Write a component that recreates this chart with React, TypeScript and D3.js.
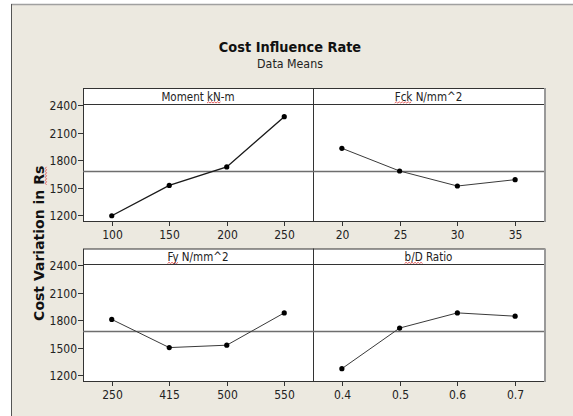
import React, { useLayoutEffect, useRef, useState } from "react";
import * as d3 from "d3";

// ---- data ----
const factorNames = ["Moment kN-m", "Fck N/mm^2", "Fy N/mm^2", "b/D Ratio"];
const momentLevels = ["100", "150", "200", "250"];
const momentMeans = [1197, 1527, 1727, 2273];
const fckLevels = ["20", "25", "30", "35"];
const fckMeans = [1930, 1683, 1520, 1589];
const fyLevels = ["250", "415", "500", "550"];
const fyMeans = [1809, 1503, 1529, 1880];
const bdLevels = ["0.4", "0.5", "0.6", "0.7"];
const bdMeans = [1274, 1715, 1880, 1844];
const yTicks = [1200, 1500, 1800, 2100, 2400];
const grandMean = 1678;
// character ranges flagged by the spell checker (red squiggle)
const squiggles: [number, number][] = [[7, 8], [0, 2], [0, 1], [0, 2]];

const W = 573, H = 416;
const FONT = "'DejaVu Sans Condensed', 'DejaVu Sans', sans-serif";
const colX = [83, 313, 544];
const rows = [
  { head: 88, top: 104, bottom: 221 },
  { head: 248.5, top: 264, bottom: 381 },
];

const panels = [
  { name: factorNames[0], levels: momentLevels, means: momentMeans, sq: squiggles[0], col: 0, row: 0, lw: 1.4, lc: "#1a1a1a" },
  { name: factorNames[1], levels: fckLevels, means: fckMeans, sq: squiggles[1], col: 1, row: 0, lw: 1, lc: "#3a3a3a" },
  { name: factorNames[2], levels: fyLevels, means: fyMeans, sq: squiggles[2], col: 0, row: 1, lw: 1, lc: "#3a3a3a" },
  { name: factorNames[3], levels: bdLevels, means: bdMeans, sq: squiggles[3], col: 1, row: 1, lw: 1, lc: "#3a3a3a" },
];

function wave(x0: number, x1: number, y: number) {
  let d = `M${x0},${y}`;
  let up = true;
  for (let x = x0 + 1.5; x <= x1 + 0.01; x += 1.5) {
    d += ` L${x},${y + (up ? -1.2 : 0)}`;
    up = !up;
  }
  return d;
}

export default function App() {
  const headRefs = useRef<(SVGTextElement | null)[]>([]);
  const yLabRef = useRef<SVGTextElement | null>(null);
  const [sqPaths, setSqPaths] = useState<string[]>([]);
  const [ySq, setYSq] = useState<string>("");

  useLayoutEffect(() => {
    const ps: string[] = [];
    panels.forEach((p, i) => {
      const el = headRefs.current[i];
      if (!el) return;
      try {
        const s = el.getStartPositionOfChar(p.sq[0]);
        const e = el.getEndPositionOfChar(p.sq[1]);
        ps.push(wave(s.x, e.x, s.y + 2.5));
      } catch (err) {}
    });
    setSqPaths(ps);
    const yl = yLabRef.current;
    if (yl) {
      try {
        const n = yl.textContent!.length;
        const s = yl.getStartPositionOfChar(n - 2);
        const e = yl.getEndPositionOfChar(n - 1);
        setYSq(wave(s.x, e.x, s.y + 2.5));
      } catch (err) {}
    }
  }, []);

  const yScales = rows.map((r) =>
    d3.scaleLinear().domain([1140, 2411]).range([r.bottom, r.top])
  );

  return (
    <svg width={W} height={H} style={{ position: "absolute", left: 0, top: 0, background: "#fff" }} fontFamily={FONT}>
      {/* frame */}
      <rect x={11} y={4} width={W - 11} height={H - 4} fill="#ECE9E0" />
      <line x1={11} x2={W} y1={4.5} y2={4.5} stroke="#a0a0a0" strokeWidth={1.5} />
      <line x1={11.5} x2={11.5} y1={4} y2={H} stroke="#555" strokeWidth={1} />

      {/* titles */}
      <text x={290} y={51.5} textAnchor="middle" fontWeight="bold" fontSize={14.4} fill="#111">Cost Influence Rate</text>
      <text x={290} y={68.3} textAnchor="middle" fontSize={12.3} fill="#222">Data Means</text>

      {/* y label */}
      <g transform="translate(44,243.3) rotate(-90)">
        <text ref={yLabRef} x={0} y={0} textAnchor="middle" fontWeight="bold" fontFamily="'DejaVu Sans', sans-serif" fontSize={14} fill="#111">Cost Variation in Rs</text>
        {ySq && <path d={ySq} fill="none" stroke="#e05050" strokeWidth={0.9} />}
      </g>

      {/* row frames */}
      {rows.map((r, ri) => (
        <g key={"row" + ri}>
          <rect x={colX[0] + 0.5} y={r.head + 0.5} width={colX[2] - colX[0]} height={r.bottom - r.head} fill="#fff" stroke="#333" strokeWidth={1} />
          <line x1={colX[0]} x2={colX[2]} y1={r.top + 0.5} y2={r.top + 0.5} stroke="#333" />
          <line x1={colX[1] + 0.5} x2={colX[1] + 0.5} y1={r.head} y2={r.bottom} stroke="#333" />
          <line x1={colX[2] + 1} x2={colX[2] + 1} y1={r.head} y2={r.bottom + 1} stroke="#999" strokeWidth={2} />
          {/* grand mean reference line */}
          <line x1={colX[0]} x2={colX[2]} y1={yScales[ri](grandMean)} y2={yScales[ri](grandMean)} stroke="#6e6e6e" strokeWidth={1.6} />
          {/* y axis */}
          {yTicks.map((t) => {
            const y = Math.round(yScales[ri](t)) + 0.5;
            return (
              <g key={t}>
                <line x1={78} x2={83} y1={y} y2={y} stroke="#333" />
                <text x={77} y={y} dy="0.35em" textAnchor="end" fontSize={12} fill="#222">{t}</text>
              </g>
            );
          })}
        </g>
      ))}

      {panels.map((p, i) => {
        const r = rows[p.row];
        const ys = yScales[p.row];
        const x = d3.scalePoint<string>().domain(p.levels).range([colX[p.col], colX[p.col + 1]]).padding(0.5);
        const line = d3.line<number>().x((_, k) => x(p.levels[k])!).y((v) => ys(v));
        const cx = (colX[p.col] + colX[p.col + 1]) / 2;
        return (
          <g key={p.name}>
            <text ref={(el) => { headRefs.current[i] = el; }} x={cx} y={r.head + 12.5} textAnchor="middle" fontSize={11.5} fill="#222">{p.name}</text>
            {sqPaths[i] && <path d={sqPaths[i]} fill="none" stroke="#e05050" strokeWidth={0.9} />}
            <path d={line(p.means)!} fill="none" stroke={p.lc} strokeWidth={p.lw} />
            {p.means.map((v, k) => (
              <circle key={k} cx={x(p.levels[k])} cy={ys(v)} r={2.6} fill="#000" />
            ))}
            {p.levels.map((l) => {
              const xx = Math.round(x(l)!) + 0.5;
              return (
                <g key={l}>
                  <line x1={xx} x2={xx} y1={r.bottom + 1} y2={r.bottom + 5} stroke="#333" />
                  <text x={xx} y={r.bottom + 14} dy="0.35em" textAnchor="middle" fontSize={12} fill="#222">{l}</text>
                </g>
              );
            })}
          </g>
        );
      })}
    </svg>
  );
}
